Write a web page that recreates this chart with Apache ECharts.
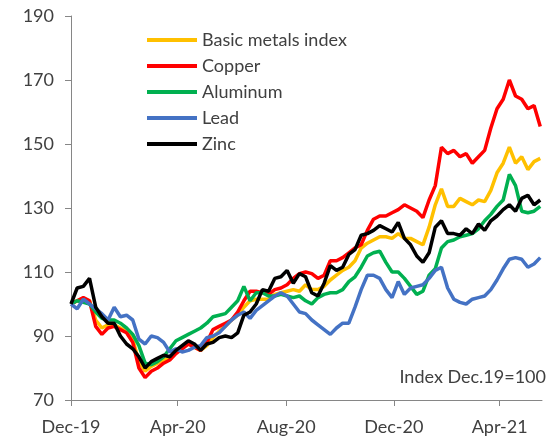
<!DOCTYPE html>
<html>
<head>
<meta charset="utf-8">
<script src="https://cdn.jsdelivr.net/npm/echarts@6/dist/echarts.min.js"></script>
<style>
html,body{margin:0;padding:0;background:#fff;}
#chart{width:551px;height:439px;}
</style>
</head>
<body>
<div id="chart"></div>
<script>
const dates = [
 '2019-12-31','2020-01-07','2020-01-14','2020-01-21','2020-01-28','2020-02-04','2020-02-11','2020-02-18','2020-02-25','2020-03-03',
 '2020-03-10','2020-03-17','2020-03-24','2020-03-31','2020-04-07','2020-04-14','2020-04-21','2020-04-28','2020-05-05','2020-05-12',
 '2020-05-19','2020-05-26','2020-06-02','2020-06-09','2020-06-16','2020-06-23','2020-06-30','2020-07-07','2020-07-14','2020-07-21',
 '2020-07-28','2020-08-04','2020-08-11','2020-08-18','2020-08-25','2020-09-01','2020-09-08','2020-09-15','2020-09-22','2020-09-29',
 '2020-10-06','2020-10-13','2020-10-20','2020-10-27','2020-11-03','2020-11-10','2020-11-17','2020-11-24','2020-12-01','2020-12-08',
 '2020-12-15','2020-12-22','2020-12-29','2021-01-05','2021-01-12','2021-01-19','2021-01-26','2021-02-02','2021-02-09','2021-02-16',
 '2021-02-23','2021-03-02','2021-03-09','2021-03-16','2021-03-23','2021-03-30','2021-04-06','2021-04-13','2021-04-20','2021-04-27',
 '2021-05-04','2021-05-11','2021-05-18','2021-05-25','2021-06-01','2021-06-08','2021-06-15'
];

const basicMetals = [
 100, 101, 101.5, 101, 95, 92.5, 93.5, 93.5, 92.5, 91.5, 89, 82, 79, 80.5, 81.5, 82.5, 83, 85, 86.5,
 87.5, 86.5, 85.5, 87, 89.5, 91.5, 93, 95, 96.5, 99, 101, 101.5, 101.5, 101.5, 103, 103.5, 104, 104.5, 104,
 106, 104.5, 104.5, 105.5, 107.5, 109, 110.5, 111.5, 113.5, 117.5, 119, 120, 121, 121, 120.5, 122, 120.5, 120.5, 119.5, 118.5,
 124, 131, 136, 130.5, 130.5, 133, 132, 131, 132.5, 132, 135.5, 141, 144, 149, 144, 146, 142, 144.5, 145.5
];
const copper = [
 100, 101, 102, 101, 93, 90.5, 92.5, 93, 92, 91, 88, 80, 77, 79, 80, 81.5, 82.5, 84.5, 86,
 87.5, 86.5, 85.5, 88, 92, 93, 94, 95, 97.5, 101, 104, 104, 103.5, 103, 104.5, 105, 106, 108, 109.5,
 110, 109.5, 108, 109, 113.5, 113.5, 114.5, 116, 117.5, 118.5, 123, 126.5, 127.5, 127.5, 128.5, 129.5, 131, 130, 129, 127,
 132.5, 137, 149, 147, 148, 146, 147, 144, 146, 148, 155, 161, 164, 170, 165, 164, 161, 162, 155.5
];
const aluminum = [
 100, 101, 100.5, 100, 97.5, 95.5, 95, 95, 94, 92.5, 90.5, 87, 81.5, 81, 82, 83.5, 86, 88.5, 89.5,
 90.5, 91.5, 92.5, 94, 96, 96.5, 97, 99, 101, 105.5, 101, 103.5, 103.5, 102.5, 102.5, 103, 102.5, 102, 102.5,
 101, 100, 102, 103, 103.5, 103.5, 104.5, 107, 108.5, 111.5, 115, 116, 116.5, 113, 110, 110, 108, 105.5, 103, 104,
 109, 111, 117.5, 119.5, 120, 121, 121.5, 122, 123.5, 126, 128, 130.5, 132.5, 140.5, 137, 129, 128.5, 129, 130.5
];
const lead = [
 100, 98.5, 101.5, 100, 98.5, 97, 95, 99, 96, 96.5, 95, 89, 87.5, 90, 89.5, 88, 85, 86, 85,
 85.5, 86.5, 87, 89.5, 90, 91, 93, 95, 96.5, 97.5, 95.5, 98, 99.5, 101, 102.5, 103.5, 102.5, 100, 97.5,
 97, 95, 93.5, 92, 90.5, 92.5, 94, 94, 99, 104.5, 109, 109, 108, 104.5, 102, 107, 103, 105, 105.5, 106,
 108, 110.5, 111.5, 105, 101.5, 100.5, 100, 101.5, 102, 102.5, 104.5, 107.5, 111, 114, 114.5, 114, 111.5, 112.5, 114.5
];
const zinc = [
 100, 105, 105.5, 108, 99, 96, 94, 94, 90, 87.5, 86, 83.5, 80, 82, 83, 84, 83.5, 85.5, 87,
 88.5, 87.5, 85.5, 87.5, 88, 89.5, 90, 89.5, 91, 96.5, 97.5, 100, 104.5, 104, 108, 108.5, 110.5, 106.5, 109.5,
 108.5, 103.5, 102.5, 106.5, 112, 110.5, 111.5, 115.5, 117, 121.5, 122, 123, 124.5, 123.5, 122.5, 125.5, 120.5, 118.5, 115, 113,
 116, 124, 126, 122, 122, 121.5, 123.5, 122, 125, 123, 126, 127.5, 129.5, 131, 129, 133, 134, 131, 132.5
];

const seriesNames = ['Basic metals index', 'Copper', 'Aluminum', 'Lead', 'Zinc'];
const seriesColors = ['#FFC000', '#FF0000', '#00B050', '#4472C4', '#000000'];
const tickDates = ['2019-12-31', '2020-04-30', '2020-08-31', '2020-12-31', '2021-04-30'];
const tickLabels = ['Dec-19', 'Apr-20', 'Aug-20', 'Dec-20', 'Apr-21'];
const axisStart = '2019-12-31';
const axisEnd = '2021-06-17';
const noteText = 'Index Dec.19=100';

function toTs(s) {
  const p = s.split('-').map(Number);
  return Date.UTC(p[0], p[1] - 1, p[2]);
}
const tickTs = tickDates.map(toTs);
const allValues = [basicMetals, copper, aluminum, lead, zinc];

const font = 'Lato';
const textColor = '#404040';
const axisColor = '#868686';

const chart = echarts.init(document.getElementById('chart'), null, {renderer: 'canvas'});
chart.setOption({
  animation: false,
  backgroundColor: '#ffffff',
  grid: {left: 71, right: 9, top: 16, bottom: 39, containLabel: false},
  legend: {
    orient: 'vertical',
    left: 142,
    top: 25,
    icon: 'rect',
    itemWidth: 50,
    itemHeight: 4,
    itemGap: 6,
    data: seriesNames,
    textStyle: {fontFamily: font, fontSize: 18, color: textColor, lineHeight: 20}
  },
  xAxis: {
    type: 'value',
    min: toTs(axisStart),
    max: toTs(axisEnd),
    axisLine: {show: true, lineStyle: {color: axisColor, width: 1}},
    axisTick: {show: true, length: 6, customValues: tickTs, lineStyle: {color: axisColor}},
    axisLabel: {
      customValues: tickTs,
      fontFamily: font, fontSize: 18, color: textColor, margin: 18,
      formatter: function (v) {
        let best = 0, bd = Infinity;
        tickTs.forEach((t, i) => { const d = Math.abs(t - v); if (d < bd) { bd = d; best = i; } });
        return tickLabels[best];
      }
    },
    splitLine: {show: false}
  },
  yAxis: {
    type: 'value',
    min: 70, max: 190, interval: 20,
    axisLine: {show: true, lineStyle: {color: axisColor, width: 1}},
    axisTick: {show: true, length: 6, lineStyle: {color: axisColor}},
    axisLabel: {fontFamily: font, fontSize: 18, color: textColor, margin: 17},
    splitLine: {show: false}
  },
  graphic: [{
    type: 'text', right: 5, top: 368,
    style: {text: noteText, font: '18px Lato', fill: textColor}
  }],
  series: seriesNames.map((name, si) => ({
    name: name,
    type: 'line',
    showSymbol: false,
    symbol: 'none',
    color: seriesColors[si],
    lineStyle: {width: 3.5, color: seriesColors[si]},
    data: dates.map((d, i) => [toTs(d), allValues[si][i]])
  }))
});
</script>
</body>
</html>
